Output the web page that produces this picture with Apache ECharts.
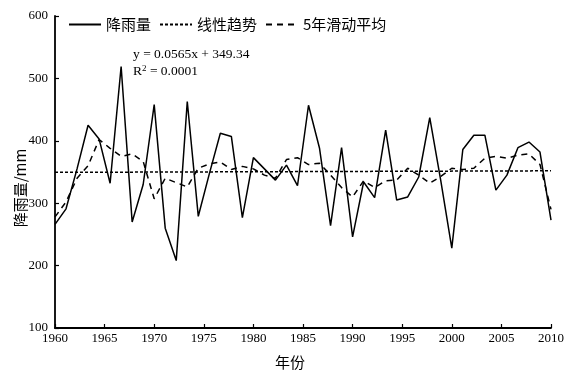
<!DOCTYPE html>
<html>
<head>
<meta charset="utf-8">
<script src="https://cdn.jsdelivr.net/npm/echarts@6/dist/echarts.min.js"></script>
<style>
    html, body { margin: 0; padding: 0; background: #fff; }
    #chartDiv { width: 569px; height: 375px; }
</style>
</head>
<body>
<div id="chartDiv"></div>
<script>
    // 序号（趋势方程中的 x）
    var seq = [1, 2, 3, 4, 5, 6, 7, 8, 9, 10, 11, 12, 13, 14, 15, 16, 17, 18, 19, 20, 21, 22, 23,
        24, 25, 26, 27, 28, 29, 30, 31, 32, 33, 34, 35, 36, 37, 38, 39, 40, 41, 42, 43, 44, 45, 46];
    // 降雨量 (mm)
    var rainfall = [266, 291, 355, 425, 403, 332, 519, 270, 330, 458, 260, 208, 463, 279, 347, 412,
        407, 277, 373, 355, 337, 361, 328, 457, 388, 264, 389, 246, 334, 309, 417, 305, 310, 342, 437,
        336, 228, 386, 409, 409, 321, 345, 389, 398, 382, 273];
    // 5年滑动平均
    var movingAvg = [278, 302, 340, 360, 402, 388, 375, 379, 367, 307, 340, 333, 326, 356, 363, 366,
        354, 359, 355, 345, 340, 370, 373, 362, 364, 345, 325, 310, 336, 325, 336, 337, 356, 345, 332,
        343, 356, 354, 356, 372, 375, 372, 377, 379, 362, 290];
    // 线性趋势两端
    var trendEnds = [349.4, 351.9];
    // 坐标轴
    var yearMin = 1960, yearMax = 2010, yearStep = 5;
    var rainMin = 100, rainMax = 600, rainStep = 100;

    var serif = "'Liberation Serif', 'Times New Roman', serif";
    var cjk = "'Noto Sans CJK SC', sans-serif";

    var chart = echarts.init(document.getElementById('chartDiv'));
    chart.setOption({
        animation: false,
        backgroundColor: '#fff',
        grid: {left: 55, top: 16, width: 496, height: 312},
        legend: {
            left: 63, top: 12,
            itemWidth: 32, itemHeight: 10, itemGap: 8,
            itemStyle: {opacity: 0},
            textStyle: {fontFamily: cjk, fontSize: 15, color: '#000'},
            data: ['降雨量', '线性趋势', '5年滑动平均']
        },
        xAxis: [{
            type: 'value',
            min: yearMin, max: yearMax, interval: yearStep,
            name: '年份', nameLocation: 'middle', nameGap: 27,
            nameTextStyle: {fontFamily: cjk, fontSize: 15, color: '#000', padding: [0, 26, 0, 0]},
            axisLine: {lineStyle: {color: '#000', width: 1.8}},
            axisTick: {inside: true, length: 4, lineStyle: {color: '#000', width: 1.2}},
            axisLabel: {fontFamily: serif, fontSize: 13, color: '#000', margin: 4,
                formatter: function (v) { return String(v); }},
            splitLine: {show: false}
        }, {
            type: 'category', data: seq, boundaryGap: false, show: false
        }],
        yAxis: {
            type: 'value',
            min: rainMin, max: rainMax, interval: rainStep,
            axisLine: {show: true, lineStyle: {color: '#000', width: 1.8}},
            axisTick: {show: true, inside: true, length: 4, lineStyle: {color: '#000', width: 1.2}},
            axisLabel: {fontFamily: serif, fontSize: 13, color: '#000', margin: 7},
            splitLine: {show: false}
        },
        series: [{
            name: '降雨量', type: 'line', xAxisIndex: 1,
            data: rainfall, symbol: 'none',
            lineStyle: {color: '#000', width: 1.5},
            itemStyle: {color: '#000'}
        }, {
            name: '线性趋势', type: 'line', xAxisIndex: 1,
            data: [[0, trendEnds[0]], [seq.length - 1, trendEnds[1]]], symbol: 'none',
            lineStyle: {color: '#000', width: 1.5, type: [3, 2]},
            itemStyle: {color: '#000'}
        }, {
            name: '5年滑动平均', type: 'line', xAxisIndex: 1,
            data: movingAvg, symbol: 'none',
            lineStyle: {color: '#000', width: 1.5, type: [6, 5]},
            itemStyle: {color: '#000'}
        }],
        graphic: [{
            type: 'text', x: 20, y: 188, rotation: Math.PI / 2,
            style: {text: '降雨量/mm', fontFamily: cjk, fontSize: 15, fill: '#000',
                align: 'center', verticalAlign: 'middle'}
        }, {
            type: 'text', left: 133, top: 47,
            style: {text: 'y = 0.0565x + 349.34', fontFamily: serif, fontSize: 13.5, fill: '#000'}
        }, {
            type: 'text', left: 133, top: 64,
            style: {
                text: 'R{s|2} = 0.0001',
                fontFamily: serif, fontSize: 13.5, fill: '#000',
                rich: {s: {fontFamily: serif, fontSize: 9, verticalAlign: 'top', padding: [0, 0, 6, 0]}}
            }
        }]
    });
</script>
</body>
</html>
